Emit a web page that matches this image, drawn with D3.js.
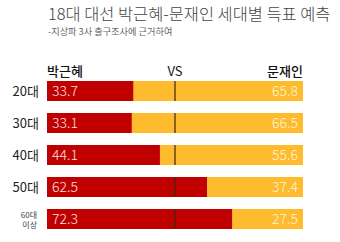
<!DOCTYPE html>
<html><head><meta charset="utf-8">
<script src="https://cdn.jsdelivr.net/npm/d3@7"></script>
<style>
body{margin:0;background:#fff;}
svg{display:block;font-family:"Noto Sans CJK KR","Noto Sans",sans-serif;}
</style></head>
<body><svg id="c" width="340" height="242"></svg>
<script>
const categories = ["20대","30대","40대","50대","60대 이상"];
const park = [33.7,33.1,44.1,62.5,72.3];
const moon = [65.8,66.5,55.6,37.4,27.5];
const title = "18대 대선 박근혜-문재인 세대별 득표 예측";
const subtitle = "-지상파 3사 출구조사에 근거하여";

const svg = d3.select("#c");
const x = d3.scaleLinear().domain([0,100]).range([47,303]);
const yb = d3.scaleBand().domain(categories).range([81,81+32*5-12]).paddingInner(0.375);

svg.append("text").attr("x",48).attr("y",19.5).attr("font-size",16.4).attr("font-weight",300)
  .attr("fill","#444").text(title);
svg.append("text").attr("x",48).attr("y",35).attr("font-size",9.2).attr("fill","#666").text(subtitle);

svg.append("text").attr("x",47).attr("y",76).attr("font-size",13).attr("font-weight",500).attr("fill","#111").text("박근혜");
svg.append("text").attr("x",x(50)).attr("y",76).attr("font-size",13).attr("text-anchor","middle").attr("fill","#111").text("VS");
svg.append("text").attr("x",303).attr("y",76).attr("font-size",13).attr("font-weight",500).attr("text-anchor","end").attr("fill","#111").text("문재인");

const g = svg.selectAll("g.row").data(categories).enter().append("g").attr("class","row");
g.append("rect").attr("x",x(0)).attr("y",d=>yb(d)).attr("width",x(100)-x(0)).attr("height",yb.bandwidth()).attr("fill","#FDBB2D");
g.append("rect").attr("x",x(0)).attr("y",d=>yb(d)).attr("width",(d,i)=>x(park[i])-x(0)).attr("height",yb.bandwidth()).attr("fill","#C00000");
g.append("line").attr("x1",x(50)).attr("x2",x(50)).attr("y1",d=>yb(d)).attr("y2",d=>yb(d)+yb.bandwidth()).attr("stroke","#3a2a10").attr("stroke-width",1.2);
g.append("text").attr("x",x(0)+5).attr("y",d=>yb(d)+yb.bandwidth()/2+5).attr("font-size",14).attr("font-weight",300)
  .attr("fill","#fbe0e0").text((d,i)=>park[i].toFixed(1));
g.append("text").attr("x",x(100)-5).attr("y",d=>yb(d)+yb.bandwidth()/2+5).attr("font-size",14).attr("font-weight",300)
  .attr("text-anchor","end").attr("fill","#fff5dc").text((d,i)=>moon[i].toFixed(1));
g.each(function(d){
  const t = d3.select(this);
  const parts = d.split(" ");
  if(parts.length===1){
    t.append("text").attr("x",39).attr("y",yb(d)+yb.bandwidth()/2+5).attr("font-size",13).attr("text-anchor","end").attr("fill","#222").text(d);
  } else {
    parts.forEach((p,k)=>{
      t.append("text").attr("x",37).attr("y",yb(d)+yb.bandwidth()/2-1+k*10).attr("font-size",8).attr("text-anchor","end").attr("fill","#444").text(p);
    });
  }
});
</script></body></html>
